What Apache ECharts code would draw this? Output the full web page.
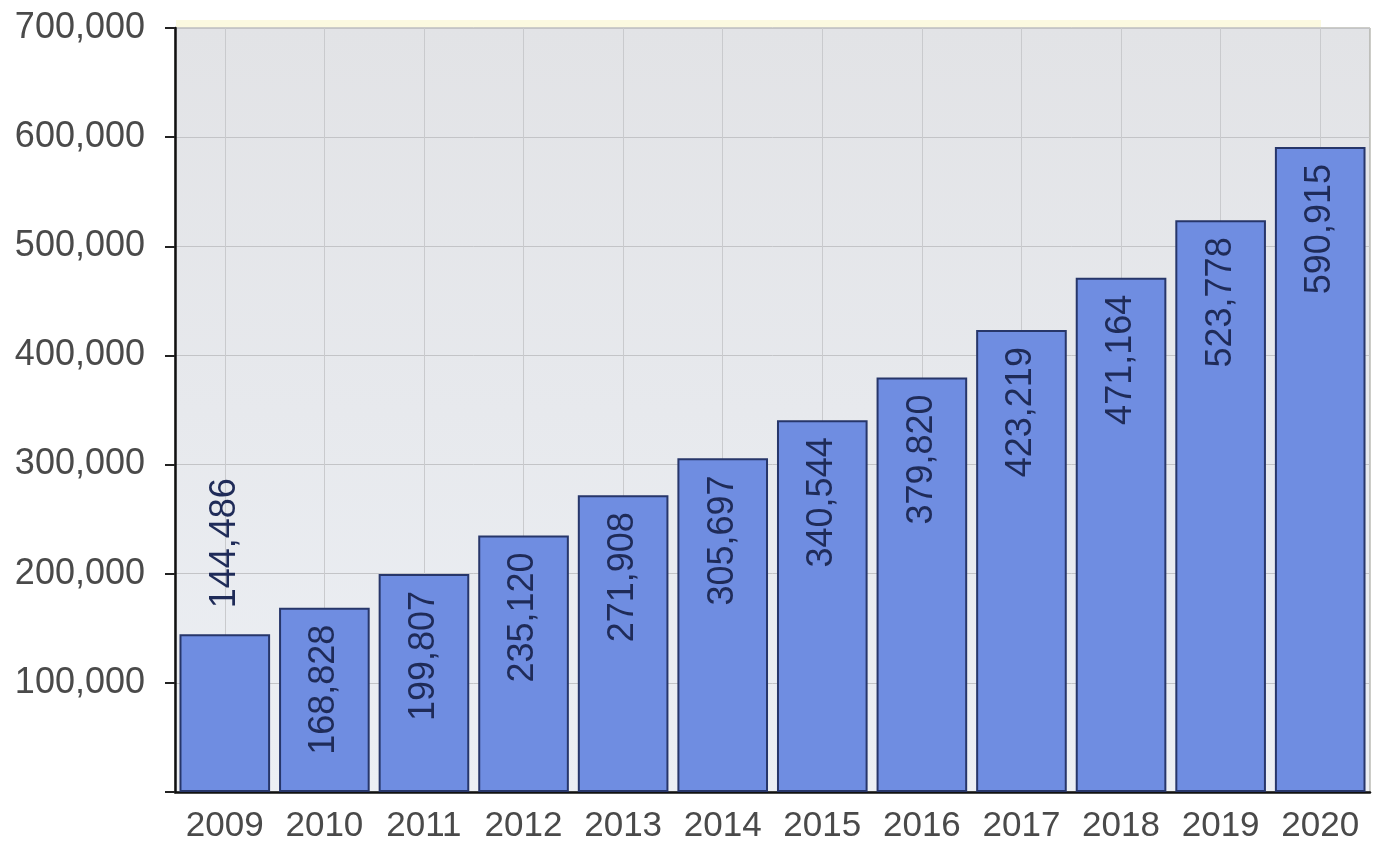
<!DOCTYPE html>
<html>
<head>
<meta charset="utf-8">
<title>Bar chart 2009-2020</title>
<script src="https://cdn.jsdelivr.net/npm/echarts@6/dist/echarts.min.js"></script>
<style>
  html, body { margin: 0; padding: 0; background: #fff; }
  #container { width: 1375px; height: 848px; }
</style>
</head>
<body>
<div id="container"></div>
<script>
var years = ['2009', '2010', '2011', '2012', '2013', '2014', '2015', '2016', '2017', '2018', '2019', '2020'];
var values = [144486, 168828, 199807, 235120, 271908, 305697, 340544, 379820, 423219, 471164, 523778, 590915];
var yTicks = [0, 100000, 200000, 300000, 400000, 500000, 600000, 700000];

function fmt(v) {
    return String(v).replace(/\B(?=(\d{3})+(?!\d))/g, ',');
}

var myChart = echarts.init(document.getElementById('container'));

// 2009 bar is too short for its label, so it sits above the bar
var barData = values.map(function (v, i) {
    if (i === 0) {
        return { value: v, label: { position: 'top', align: 'left', distance: 26 } };
    }
    return v;
});

var option = {
    animation: false,
    textStyle: { fontFamily: 'Liberation Sans' },
    grid: {
        left: 175, right: 5, top: 28, bottom: 56,
        show: true,
        borderColor: '#9a9a90',
        borderWidth: 1,
        backgroundColor: new echarts.graphic.LinearGradient(0, 0, 0, 1, [
            { offset: 0, color: '#e2e3e6' },
            { offset: 1, color: '#eceff4' }
        ])
    },
    graphic: [{
        type: 'rect',
        shape: { x: 176, y: 20, width: 1145, height: 7 },
        style: { fill: '#fbf9e0' },
        silent: true
    }],
    xAxis: [{
        type: 'category',
        data: years,
        axisLine: { lineStyle: { color: '#111', width: 2.5 } },
        axisTick: { alignWithLabel: true, interval: 0, length: 10, lineStyle: { color: '#222', width: 2 } },
        axisLabel: { interval: 0, hideOverlap: false, color: '#4a4a4a', fontSize: 35, margin: 17, fontFamily: 'Liberation Sans' },
        splitLine: { show: false }
    }, {
        // invisible helper axis: gridlines through category centers
        type: 'value',
        min: 0, max: 12, interval: 0.5,
        position: 'top',
        axisLine: { show: false },
        axisTick: { show: false },
        axisLabel: { show: false },
        splitLine: { show: true, lineStyle: { color: ['transparent', '#c9cacd'], width: 1 } }
    }],
    yAxis: {
        type: 'value',
        min: yTicks[0],
        max: yTicks[yTicks.length - 1],
        interval: 100000,
        axisLine: { show: true, lineStyle: { color: '#111', width: 2.5 } },
        axisTick: { show: true, length: 10, lineStyle: { color: '#222', width: 2 } },
        axisLabel: {
            color: '#4a4a4a', fontSize: 36, margin: 30, fontFamily: 'Liberation Sans',
            formatter: function (v) { return v === 0 ? '' : fmt(v); }
        },
        splitLine: { show: true, lineStyle: { color: '#c3c4c7', width: 1 } }
    },
    series: [{
        name: 'values',
        type: 'bar',
        xAxisIndex: 0,
        barCategoryGap: '9%',
        data: barData,
        itemStyle: {
            color: '#6f8de1',
            borderColor: '#27366a',
            borderWidth: 2
        },
        label: {
            show: true,
            position: 'insideTop',
            rotate: 90,
            align: 'right',
            verticalAlign: 'middle',
            distance: 17,
            color: '#1f2b58',
            fontSize: 36,
            fontFamily: 'Liberation Sans',
            formatter: function (p) { return fmt(p.value); }
        }
    }]
};

myChart.setOption(option);
</script>
</body>
</html>
